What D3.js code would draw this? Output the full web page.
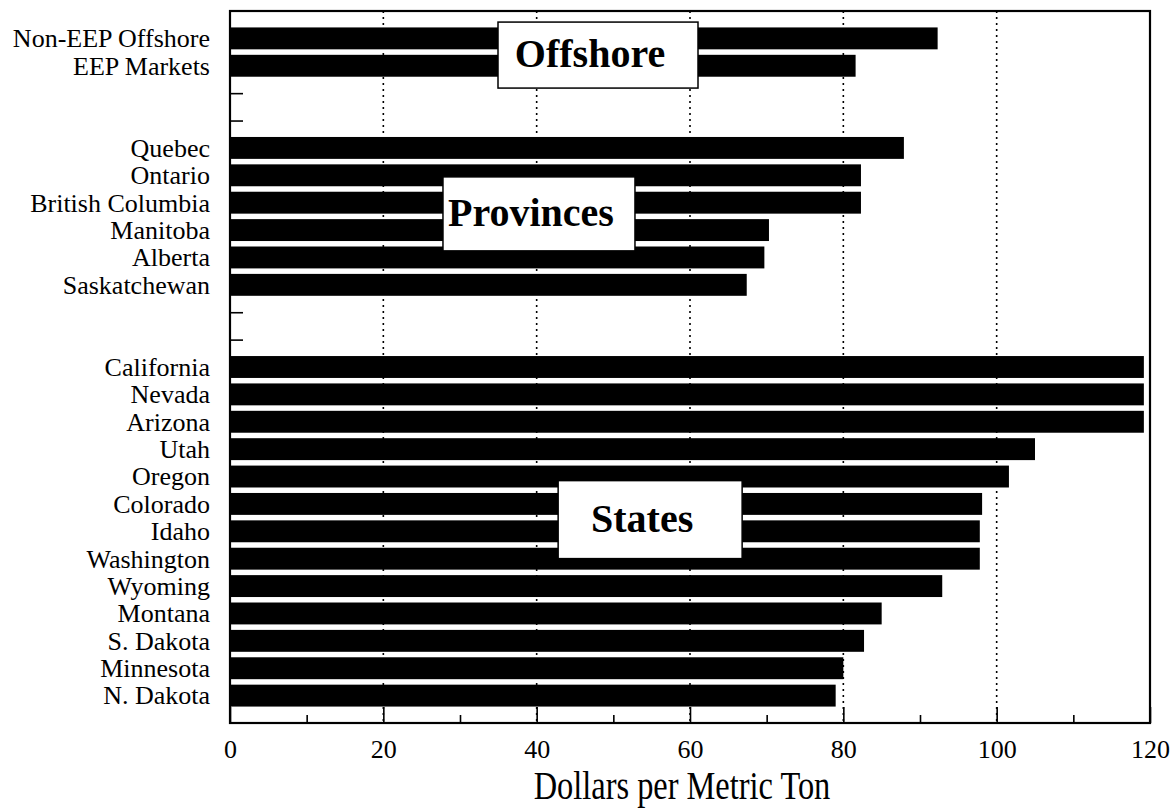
<!DOCTYPE html>
<html>
<head>
<meta charset="utf-8">
<script src="https://cdn.jsdelivr.net/npm/d3@7"></script>
<style>
  html, body { margin: 0; padding: 0; background: #fff; }
  svg { display: block; }
  text { font-family: "Liberation Serif", "Times New Roman", serif; fill: #000; }
</style>
</head>
<body>
<svg id="chart" width="1173" height="809"></svg>
<script>
// ---- data ----
const offshoreCategories = ["Non-EEP Offshore", "EEP Markets"];
const offshoreValues = [92.3, 81.6];

const provinceCategories = ["Quebec", "Ontario", "British Columbia", "Manitoba", "Alberta", "Saskatchewan"];
const provinceValues = [87.9, 82.3, 82.3, 70.3, 69.7, 67.4];

const stateCategories = ["California", "Nevada", "Arizona", "Utah", "Oregon", "Colorado", "Idaho",
  "Washington", "Wyoming", "Montana", "S. Dakota", "Minnesota", "N. Dakota"];
const stateValues = [119.2, 119.2, 119.2, 105.0, 101.6, 98.1, 97.8, 97.8, 92.9, 85.0, 82.7, 80.0, 79.0];

const groupLabels = ["Offshore", "Provinces", "States"];
const xTickValues = [0, 20, 40, 60, 80, 100, 120];
const xMinorTickValues = [10, 30, 50, 70, 90, 110];
const xAxisTitle = "Dollars per Metric Ton";

// ---- build rows (with two empty rows between groups) ----
const rows = [];
offshoreCategories.forEach((c, i) => rows.push({ key: c, label: c, value: offshoreValues[i] }));
rows.push({ key: "gap-1", label: "", value: null }, { key: "gap-2", label: "", value: null });
provinceCategories.forEach((c, i) => rows.push({ key: c, label: c, value: provinceValues[i] }));
rows.push({ key: "gap-3", label: "", value: null }, { key: "gap-4", label: "", value: null });
stateCategories.forEach((c, i) => rows.push({ key: c, label: c, value: stateValues[i] }));
const labelOf = new Map(rows.map(r => [r.key, r.label]));

// ---- layout ----
const L = 230, R = 1150, T = 11, B = 723;
const svg = d3.select("#chart");

const x = d3.scaleLinear().domain([0, 120]).range([L, R]);
const y = d3.scalePoint().domain(rows.map(r => r.key)).range([T, B]).padding(1);
const barH = y.step() * 0.8;

// gridlines
svg.append("g").selectAll("line")
  .data(xTickValues.filter(v => v > 0 && v < 120))
  .join("line")
  .attr("x1", d => x(d)).attr("x2", d => x(d))
  .attr("y1", T).attr("y2", B)
  .attr("stroke", "#000").attr("stroke-width", 1.6)
  .attr("stroke-dasharray", "2,4");

// left axis (ticks inward, labels outside)
const yAxis = svg.append("g")
  .attr("transform", `translate(${L},0)`)
  .call(d3.axisLeft(y).tickSize(-13).tickPadding(20).tickFormat(k => labelOf.get(k)));
yAxis.select(".domain").remove();
yAxis.selectAll(".tick line").attr("stroke", "#000").attr("stroke-width", 1.6);
yAxis.selectAll(".tick text")
  .attr("font-size", 26)
  .style("font-family", '"Liberation Serif", "Times New Roman", serif')
  .attr("fill", "#000");

// bars
svg.append("g").selectAll("rect")
  .data(rows.filter(r => r.value !== null))
  .join("rect")
  .attr("x", x(0))
  .attr("y", d => y(d.key) - barH / 2)
  .attr("width", d => x(d.value) - x(0))
  .attr("height", barH)
  .attr("fill", "#000");

// bottom axis: major ticks
const xAxis = svg.append("g")
  .attr("transform", `translate(0,${B})`)
  .call(d3.axisBottom(x).tickValues(xTickValues).tickSize(-16).tickPadding(17).tickFormat(d3.format("d")));
xAxis.select(".domain").remove();
xAxis.selectAll(".tick line").attr("stroke", "#000").attr("stroke-width", 1.6);
xAxis.selectAll(".tick text")
  .attr("font-size", 26)
  .style("font-family", '"Liberation Serif", "Times New Roman", serif')
  .attr("fill", "#000");

// bottom axis: minor ticks
const xMinor = svg.append("g")
  .attr("transform", `translate(0,${B})`)
  .call(d3.axisBottom(x).tickValues(xMinorTickValues).tickSize(-8).tickFormat(""));
xMinor.select(".domain").remove();
xMinor.selectAll(".tick line").attr("stroke", "#000").attr("stroke-width", 1.6);

// frame
svg.append("rect")
  .attr("x", L).attr("y", T).attr("width", R - L).attr("height", B - T)
  .attr("fill", "none").attr("stroke", "#000").attr("stroke-width", 2.2);

// axis title (condensed serif)
svg.append("text")
  .attr("transform", `translate(${(L + R) / 2 - 8},799) scale(0.81,1)`)
  .attr("text-anchor", "middle")
  .attr("font-size", 40)
  .text(xAxisTitle);

// group annotation boxes
const annotations = [
  { text: groupLabels[0], between: ["Non-EEP Offshore", "EEP Markets"], xc: 48.0, w: 200, h: 66, dy: 3 },
  { text: groupLabels[1], between: ["British Columbia", "Manitoba"], xc: 40.3, w: 192, h: 74, dy: -2.5 },
  { text: groupLabels[2], between: ["Colorado", "Idaho"], xc: 54.8, w: 184, h: 78, dy: 2 }
];
const ann = svg.append("g").selectAll("g").data(annotations).join("g")
  .attr("transform", d => {
    const cy = (y(d.between[0]) + y(d.between[1])) / 2 + d.dy;
    return `translate(${x(d.xc)},${cy})`;
  });
ann.append("rect")
  .attr("x", d => -d.w / 2).attr("y", d => -d.h / 2)
  .attr("width", d => d.w).attr("height", d => d.h)
  .attr("fill", "#fff").attr("stroke", "#000").attr("stroke-width", 1.5);
ann.append("text")
  .attr("x", -8).attr("y", 12)
  .attr("text-anchor", "middle")
  .attr("font-size", 40)
  .attr("font-weight", "bold")
  .text(d => d.text);
</script>
</body>
</html>
